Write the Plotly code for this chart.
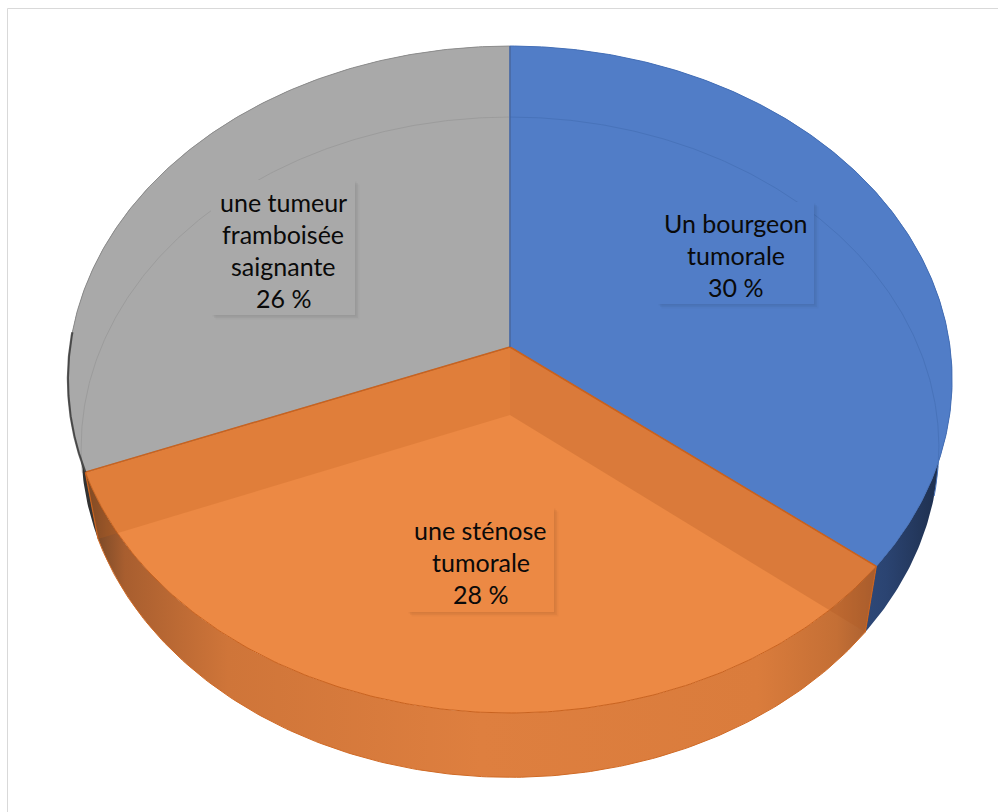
import textwrap
import numpy as np
import plotly.graph_objects as go

# ---- data -------------------------------------------------------------
CATEGORIES = ["Un bourgeon tumorale", "une sténose tumorale", "une tumeur framboisée saignante"]
VALUES = [30, 28, 26]

# ---- styling ----------------------------------------------------------
TOP_COLORS = ["#517DC7", "#EC8944", "#A9A9A9"]
RIM_COLORS = ["#4570B8", "#C9621E", "#8E8E8E"]
FAINT_RIM = ["#4873BA", None, "#9C9C9C"]
SIDE_SCALES = [
    [[0, "#4B6EA8"], [0.55, "#3C5C93"], [0.85, "#2B4472"], [1, "#1B2A45"]],
    [[0, "#6A4226"], [0.05, "#A85E2F"], [0.18, "#CF7539"], [0.5, "#DE7F3F"],
     [0.85, "#DA7C3C"], [0.95, "#C46F35"], [1, "#A65E30"]],
    [[0, "#2E2E2E"], [1, "#8A8A8A"]],
]
FONT = "Lato"

# pie geometry in page pixels (perspective 3D disc)
CX, CY = 510.0, 347.0
RX, RY = 440.0, 330.3
PERSP = 0.0975
DEPTH = 68.0
BSX, BSY = 0.97, 0.99

# label box centres and sizes
LABEL_BOX = [(735.5, 253.0, 157, 102), (480.5, 559.5, 147, 105), (283.0, 247.5, 144, 135)]
LINE_STEP = 32.0


def top_pt(theta, r=1.0):
    u = r * np.sin(theta)
    v = -r * np.cos(theta)
    d = 1 - PERSP * v
    return CX + RX * u / d, CY + RY * v / d


def bot_pt(theta, r=1.0):
    u = r * np.sin(theta)
    v = -r * np.cos(theta)
    d = 1 - PERSP * v
    return CX + BSX * RX * u / d, CY + DEPTH + BSY * RY * v / d


def arc(fn, a0, a1, n=200):
    t = np.linspace(a0, a1, n)
    x, y = fn(t)
    return list(x), list(y)


total = float(sum(VALUES))
bounds = np.concatenate([[0.0], np.cumsum(VALUES) / total]) * 2 * np.pi
starts, ends = bounds[:-1], bounds[1:]

fig = go.Figure()

# side walls (drawn first, top faces cover the hidden parts)
for i in range(len(VALUES)):
    a0, a1 = starts[i], ends[i]
    tx, ty = arc(top_pt, a0, a1)
    bx, by = arc(bot_pt, a0, a1)
    xs = tx + bx[::-1] + [tx[0]]
    ys = ty + by[::-1] + [ty[0]]
    fig.add_trace(go.Scatter(
        x=xs, y=ys, mode="lines", fill="toself",
        line=dict(width=0, color="rgba(0,0,0,0)"),
        fillgradient=dict(type="horizontal", colorscale=SIDE_SCALES[i]),
        hoverinfo="skip", showlegend=False))

# outer bottom rim of the orange wall
bx, by = arc(bot_pt, starts[1], ends[1])
fig.add_trace(go.Scatter(x=bx, y=by, mode="lines",
                         line=dict(color="#D06A25", width=1),
                         hoverinfo="skip", showlegend=False))

# top faces
for i in range(len(VALUES)):
    a0, a1 = starts[i], ends[i]
    tx, ty = arc(top_pt, a0, a1)
    xs = [CX] + tx + [CX]
    ys = [CY] + ty + [CY]
    fig.add_trace(go.Scatter(
        x=xs, y=ys, mode="lines", fill="toself", fillcolor=TOP_COLORS[i],
        line=dict(width=1, color=RIM_COLORS[i]),
        hoverinfo="skip", showlegend=False, name=CATEGORIES[i]))

# bottom rim showing through the blue and grey tops
fx, fy = arc(bot_pt, starts[0], starts[0] + np.radians(104))
fig.add_trace(go.Scatter(x=fx, y=fy, mode="lines", line=dict(color=FAINT_RIM[0], width=1),
                         hoverinfo="skip", showlegend=False))
fx, fy = arc(bot_pt, ends[2] - np.radians(100), ends[2])
fig.add_trace(go.Scatter(x=fx, y=fy, mode="lines", line=dict(color=FAINT_RIM[2], width=1),
                         hoverinfo="skip", showlegend=False))

# radial cut walls of the orange slice seen through its top
for a, col in ((ends[1], "rgba(190,95,30,0.26)"), (starts[1], "rgba(175,90,35,0.30)")):
    p1 = top_pt(a)
    p2 = bot_pt(a)
    fig.add_trace(go.Scatter(
        x=[CX, p1[0], p2[0], CX, CX], y=[CY, p1[1], p2[1], CY + DEPTH, CY],
        mode="lines", fill="toself", fillcolor=col,
        line=dict(width=0, color="rgba(0,0,0,0)"),
        hoverinfo="skip", showlegend=False))
    fig.add_trace(go.Scatter(x=[p1[0], p2[0]], y=[p1[1], p2[1]], mode="lines",
                             line=dict(color="#C9621E", width=1.2),
                             hoverinfo="skip", showlegend=False))

# edges of the orange top face
for a in (starts[1], ends[1]):
    p = top_pt(a)
    fig.add_trace(go.Scatter(x=[CX, p[0]], y=[CY, p[1]], mode="lines",
                             line=dict(color="#C9621E", width=1.5),
                             hoverinfo="skip", showlegend=False))

# blue / grey seam
p = top_pt(starts[0])
fig.add_trace(go.Scatter(x=[CX, p[0]], y=[CY, p[1]], mode="lines",
                         line=dict(color="#3F64A8", width=1.5),
                         hoverinfo="skip", showlegend=False))

# dark silhouette along the grey left edge
sx, sy = arc(top_pt, ends[1], ends[1] + np.radians(24))
fig.add_trace(go.Scatter(x=sx, y=sy, mode="lines",
                         line=dict(color="rgba(40,40,40,0.7)", width=2.2),
                         hoverinfo="skip", showlegend=False))

# data labels
shapes = []
annotations = []
for i, (name, val) in enumerate(zip(CATEGORIES, VALUES)):
    bx0, by0, bw, bh = LABEL_BOX[i]
    x0, x1 = bx0 - bw / 2, bx0 + bw / 2
    y0, y1 = by0 - bh / 2, by0 + bh / 2
    for off, alpha in ((4.5, 0.025), (3, 0.03), (1.5, 0.035)):
        shapes.append(dict(type="rect", xref="x", yref="y",
                           x0=x0 + off, x1=x1 + off, y0=y0 + off, y1=y1 + off,
                           line=dict(width=0), fillcolor=f"rgba(0,0,0,{alpha})"))
    shapes.append(dict(type="rect", xref="x", yref="y", x0=x0, x1=x1, y0=y0, y1=y1,
                       line=dict(width=0), fillcolor=TOP_COLORS[i]))
    lines = textwrap.wrap(name, 11) + [f"{val} %"]
    n = len(lines)
    for j, txt in enumerate(lines):
        annotations.append(dict(
            x=bx0, y=by0 + 2 + (j - (n - 1) / 2) * LINE_STEP, xref="x", yref="y",
            text=txt, showarrow=False, xanchor="center", yanchor="middle",
            font=dict(family=FONT, size=25, color="#0A0A0A")))

# chart frame
shapes.append(dict(type="rect", xref="x", yref="y", x0=7.5, y0=8.5, x1=1010, y1=830,
                   line=dict(color="#D9D9D9", width=1), fillcolor="rgba(0,0,0,0)",
                   layer="below"))

fig.update_layout(
    width=998, height=812,
    margin=dict(l=0, r=0, t=0, b=0),
    paper_bgcolor="white", plot_bgcolor="white",
    xaxis=dict(range=[0, 998], visible=False, fixedrange=True),
    yaxis=dict(range=[812, 0], visible=False, fixedrange=True),
    shapes=shapes, annotations=annotations, showlegend=False,
)

fig.write_html("out.html")
